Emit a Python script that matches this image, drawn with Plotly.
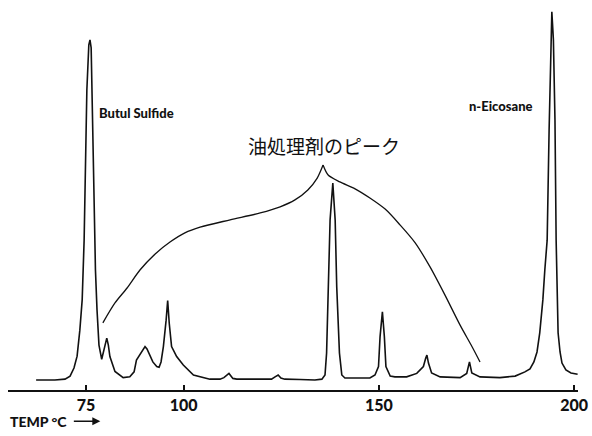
import plotly.graph_objects as go

# Chromatogram trace: column temperature (°C) vs detector signal (arbitrary units)
temp = [62.2, 67.0, 69.6, 70.9, 71.9, 72.7, 73.4, 74.0, 74.5, 74.9, 75.2, 75.7, 76.0, 76.3,
        76.5, 76.8, 77.0, 77.4, 77.8, 78.3, 79.0, 79.6, 80.3, 80.7, 81.1, 82.4, 84.5, 86.2,
        87.3, 87.9, 88.8, 89.3, 90.1, 90.6, 91.4, 92.1, 93.1, 93.7, 94.2, 94.8, 95.5, 95.9,
        96.3, 96.9, 98.2, 99.9, 102.5, 106.7, 109.3, 110.3, 111.6, 112.6, 113.6, 119.5,
        122.5, 123.4, 124.2, 124.9, 125.9, 129.8, 133.6, 135.4, 136.2, 136.6, 137.0, 137.5,
        138.2, 138.8, 139.2, 139.9, 140.5, 141.3, 147.7, 149.0, 149.9, 150.3, 150.9, 151.4,
        151.8, 152.9, 154.1, 157.1, 159.7, 161.4, 162.0, 162.3, 162.7, 163.5, 165.7, 170.8,
        172.5, 173.2, 173.8, 175.9, 181.0, 184.9, 187.4, 188.7, 189.7, 190.5, 191.2, 192.0,
        192.5, 193.1, 193.6, 194.0, 194.3, 194.7, 195.1, 195.4, 195.6, 195.9, 196.4, 196.9,
        197.9, 199.2, 200.9]
signal = [0.8, 0.8, 1.0, 1.8, 3.9, 7.0, 13.8, 21.7, 37.3, 55.6, 76.5, 88.3, 89.6, 87.5,
          76.5, 58.2, 42.6, 29.5, 19.1, 9.9, 6.2, 9.1, 11.7, 9.9, 6.9, 3.0, 1.4, 1.6,
          2.9, 6.0, 7.3, 8.1, 9.5, 8.9, 7.3, 5.5, 4.3, 4.1, 5.5, 9.5, 16.4, 21.5,
          15.6, 9.5, 6.9, 4.7, 2.1, 1.0, 1.0, 1.4, 2.5, 1.2, 1.0, 1.0,
          1.0, 1.6, 2.1, 1.3, 1.0, 0.9, 0.8, 1.0, 2.1, 7.8, 25.1, 42.6,
          52.2, 42.6, 25.1, 7.8, 2.1, 1.3, 1.3, 2.1, 4.3, 12.1, 18.6, 12.1,
          4.3, 1.8, 1.6, 1.6, 2.5, 4.3, 6.5, 7.3, 5.2, 2.6, 1.6, 1.4,
          2.5, 5.5, 2.6, 1.6, 1.4, 1.8, 2.9, 3.7, 5.5, 8.1, 13.1, 21.7,
          29.5, 37.3, 66.1, 86.9, 96.9, 89.6, 68.7, 37.3, 24.3, 13.1, 8.1, 5.2,
          3.4, 2.6, 2.3]

# Bracket marking the dispersant (oil treatment agent) peaks
bracket_left_temp = [79.3, 82.4, 85.5, 88.8, 92.7, 96.5, 100.3, 104.2, 111.9, 119.6, 124.7,
                     128.5, 131.8, 134.2, 135.7]
bracket_left_signal = [15.7, 20.9, 24.8, 29.5, 33.7, 36.8, 39.2, 40.7, 42.6, 44.4, 46.0,
                       47.8, 50.4, 53.5, 56.9]
bracket_right_temp = [135.7, 137.0, 140.0, 143.9, 147.7, 151.6, 155.4, 159.3, 163.1, 166.9,
                      170.8, 173.9, 175.9]
bracket_right_signal = [56.9, 54.3, 52.5, 50.7, 48.3, 45.4, 41.3, 36.6, 30.3, 23.0,
                        15.1, 9.4, 5.5]

tick_vals = [75, 100, 150, 200]
tick_text = ["75", "100", "150", "200"]

ink = "#111111"
sans = "Lato, 'Open Sans', sans-serif"
fig = go.Figure()
fig.add_trace(go.Scatter(x=temp, y=signal, mode="lines",
                         line=dict(color=ink, width=1.6), hoverinfo="skip"))
fig.add_trace(go.Scatter(x=bracket_left_temp, y=bracket_left_signal, mode="lines",
                         line=dict(color=ink, width=1.3, shape="spline", smoothing=0.8),
                         hoverinfo="skip"))
fig.add_trace(go.Scatter(x=bracket_right_temp, y=bracket_right_signal, mode="lines",
                         line=dict(color=ink, width=1.3, shape="spline", smoothing=0.8),
                         hoverinfo="skip"))

label_font = dict(family=sans, size=13, color=ink, weight=900)
fig.add_annotation(x=88.0, y=70.5, text="Butul Sulfide", showarrow=False,
                   font=label_font, xanchor="center", yanchor="middle")
fig.add_annotation(x=181.3, y=72.3, text="n-Eicosane", showarrow=False,
                   font=label_font, xanchor="center", yanchor="middle")
fig.add_annotation(x=135.9, y=62.0, text="油処理剤のピーク", showarrow=False,
                   font=dict(family="Noto Sans CJK JP", size=19, color=ink),
                   xanchor="center", yanchor="middle")
fig.add_annotation(xref="paper", yref="paper", x=0.0, y=-0.080,
                   text="TEMP °C", showarrow=False,
                   font=dict(family=sans, size=14, color=ink, weight=900),
                   xanchor="left", yanchor="middle")
# arrow after the TEMP °C label
fig.add_annotation(xref="paper", yref="paper", x=0.162, y=-0.080,
                   ax=-28, ay=0, text="", showarrow=True,
                   arrowhead=2, arrowsize=1, arrowwidth=1.6, arrowcolor=ink)

fig.update_layout(
    width=592, height=436,
    margin=dict(l=8, r=14, t=0, b=46),
    paper_bgcolor="white", plot_bgcolor="white",
    showlegend=False,
    xaxis=dict(range=[55, 201], showgrid=False, zeroline=False,
               showline=True, linecolor=ink, linewidth=1.5,
               ticks="inside", ticklen=5, tickwidth=1.5, tickcolor=ink,
               tickvals=tick_vals, ticktext=tick_text,
               tickfont=dict(family=sans, size=16, color=ink, weight=900)),
    yaxis=dict(range=[-1.83, 100], visible=False),
)

fig.write_html("out.html")
